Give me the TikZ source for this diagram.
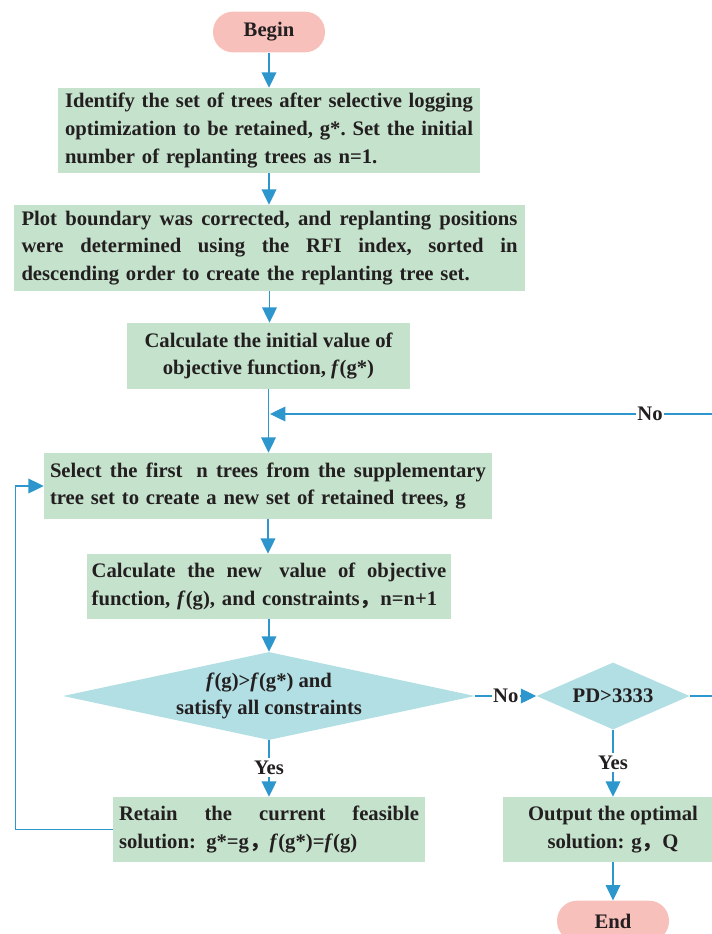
\documentclass[tikz,border=0pt]{standalone}
\usepackage{fontspec}
\setmainfont{Liberation Serif}
\newfontfamily\cjk{Noto Sans CJK SC}
\usetikzlibrary{arrows.meta,shapes.geometric,calc}
\definecolor{boxgreen}{RGB}{197,227,204}
\definecolor{diacyan}{RGB}{178,223,228}
\definecolor{pillpink}{RGB}{248,192,187}
\definecolor{lineblue}{RGB}{44,150,205}
\definecolor{txt}{RGB}{35,31,32}
\newcommand{\ws}{\hskip 3pt plus 1fil\relax}
\newcommand{\jline}[2]{\leavevmode\hbox to #1{#2}}
\newcommand{\fwc}{{\cjk ，}}
\newcommand{\itf}{\textit{f}}
\tikzset{
  base/.style={text=txt, font=\bfseries\fontsize{15.5}{20.8}\selectfont, inner sep=0pt},
  proc/.style={base, fill=boxgreen, rectangle},
  pill/.style={base, fill=pillpink, rectangle, rounded corners=15pt, minimum width=84pt, minimum height=30.5pt},
  decision/.style={diamond, fill=diacyan, inner sep=0pt},
  conn/.style={draw=lineblue, line width=1pt},
  arr/.style={conn, -{Triangle[length=11.5pt,width=11pt]}},
  lab/.style={base, fill=white, inner xsep=1pt, inner ysep=2pt}
}
\begin{document}
\begin{tikzpicture}[x=0.75pt,y=-0.75pt]
\useasboundingbox (0,0) rectangle (712,934);

\node[pill] (begin) at (269,32) {Begin};

\node[proc, minimum width=316.5pt, minimum height=63.75pt, text width=306pt, align=left] (b1) at (269,130.5)
  {\jline{306pt}{Identify\ws the\ws set\ws of\ws trees\ws after\ws selective\ws logging}\\
   \jline{306pt}{optimization\ws to\ws be\ws retained,\ws g*.\ws Set\ws the\ws initial}\\
   number of replanting trees as n=1.};

\node[proc, minimum width=383.25pt, minimum height=64.5pt, text width=372pt, align=left] (b2) at (269.5,248)
  {\jline{372pt}{Plot\ws boundary\ws was\ws corrected,\ws and\ws replanting\ws positions}\\
   \jline{372pt}{were\ws determined\ws using\ws the\ws RFI\ws index,\ws sorted\ws in}\\
   descending order to create the replanting tree set.};

\node[proc, minimum width=212.25pt, minimum height=49.5pt, align=center] (b3) at (268.5,356)
  {Calculate the initial value of\\objective function, \itf(g*)};

\node[proc, minimum width=336pt, minimum height=49.5pt, text width=327pt, align=left] (b4) at (268,486)
  {\jline{327pt}{Select\ws the\ws first\ws\hskip 4pt n\ws trees\ws from\ws the\ws supplementary}\\
   tree set to create a new set of retained trees, g};

\node[proc, minimum width=273pt, minimum height=48.75pt, text width=266pt, align=left] (b5) at (269,586.5)
  {\jline{266pt}{Calculate\ws the\ws new\ws\hskip 4pt value\ws of\ws objective}\\
   function, \itf(g), and constraints\fwc n=n+1};

\node[decision, minimum width=309pt, minimum height=66pt] (d1) at (269,696) {};
\node[base, align=center] (d1t) at (d1.center) {\itf(g)>\itf(g*) and\\satisfy all constraints};

\node[decision, minimum width=114.75pt, minimum height=50.25pt] (d2) at (613,696) {};
\node[base] (d2t) at (d2.center) {PD>3333};

\node[proc, minimum width=234pt, minimum height=48.75pt, text width=225pt, align=left] (b6) at (269,829.5)
  {\jline{225pt}{Retain\ws the\ws current\ws feasible}\\
   solution: g*=g\fwc\itf(g*)=\itf(g)};

\node[proc, minimum width=165pt, minimum height=48.75pt, align=center] (b7) at (613,829.5)
  {Output the optimal\\solution: g\fwc Q};

\node[pill] (end) at (613,921) {End};

\coordinate (rc) at (716,414);
\coordinate (jn) at (270,414);

\draw[arr] (begin.south) -- (begin.south |- b1.north);
\draw[arr] (b1.south) -- (b1.south |- b2.north);
\draw[arr] (b2.south) -- (b2.south |- b3.north);
\draw[arr] (b3.south) -- (b3.south |- b4.north);
\draw[arr] (b4.south) -- (b4.south |- b5.north);
\draw[arr] (b5.south) -- (b5.south |- d1.north);
\draw[arr] (d1.east) -- node[lab, pos=0.5] {No} (d2.west);
\draw[arr] (d1.south) -- node[lab, pos=0.49] {Yes} (d1.south |- b6.north);
\draw[arr] (d2.south) -- node[lab, pos=0.49] {Yes} (d2.south |- b7.north);
\draw[arr] (b7.south) -- (b7.south |- end.north);
\draw[arr] (d2.east) -| (rc) -- node[lab, pos=0.148] {No} (jn);
\draw[arr] (b6.west) -- ++(-97,0) |- (b4.west);
\end{tikzpicture}
\end{document}
